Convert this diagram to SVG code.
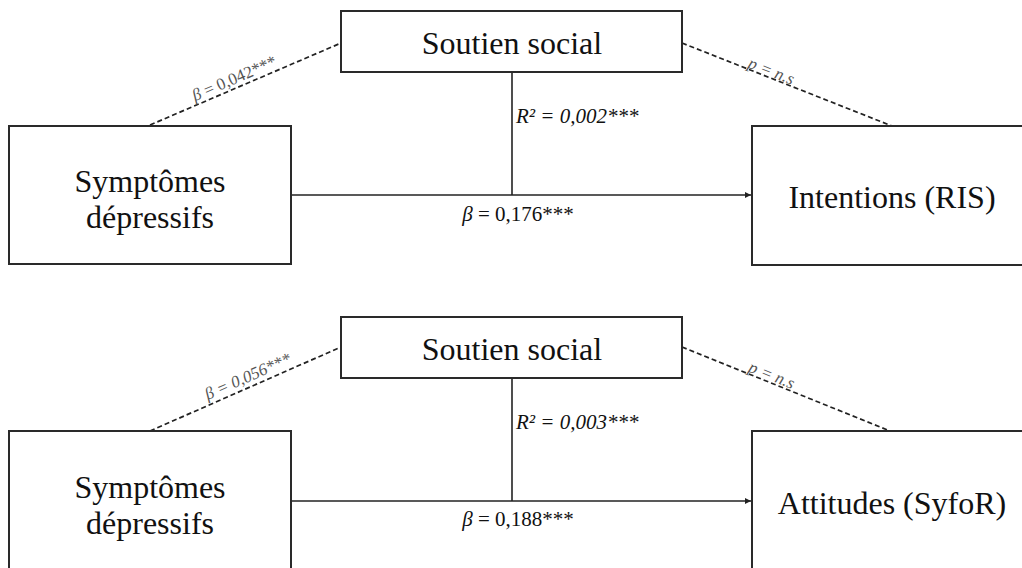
<svg xmlns="http://www.w3.org/2000/svg" width="1022" height="568" viewBox="0 0 1022 568">
<style>
.box{fill:#fff;stroke:#2a2a2a;stroke-width:2}
.big{font-family:"Liberation Serif","Times New Roman",serif;font-size:32px;fill:#111;text-anchor:middle}
.lab{font-family:"Liberation Serif","Times New Roman",serif;font-size:21px;fill:#111}
.sm{font-family:"Liberation Serif","Times New Roman",serif;font-size:17px;fill:#555;text-anchor:middle}
.dash{stroke:#222;stroke-width:1.7;stroke-dasharray:5 3;fill:none}
.solid{stroke:#222;stroke-width:1.6;fill:none}
</style>
<defs>
<marker id="ah" viewBox="0 0 10 10" refX="10" refY="5" markerWidth="7" markerHeight="6" markerUnits="userSpaceOnUse" orient="auto">
<path d="M0,0 L10,5 L0,10 z" fill="#222"/>
</marker>
</defs>
<rect width="1022" height="568" fill="#fff"/>
<g id="connectors">
<line class="dash" x1="150" y1="125" x2="341" y2="43"/>
<line class="dash" x1="682" y1="43" x2="892" y2="126"/>
<line class="solid" x1="512" y1="72" x2="512" y2="195"/>
<line class="solid" x1="291" y1="195" x2="751" y2="195" marker-end="url(#ah)"/>
<line class="dash" x1="150" y1="431" x2="341" y2="347"/>
<line class="dash" x1="682" y1="347" x2="890" y2="431"/>
<line class="solid" x1="512" y1="378" x2="512" y2="501"/>
<line class="solid" x1="291" y1="501" x2="751" y2="501" marker-end="url(#ah)"/>
<text class="sm" transform="translate(238,87) rotate(-23.3)" y="-4"><tspan font-style="italic">β</tspan> = 0,042***</text>
<text class="sm" font-style="italic" transform="translate(769,77) rotate(21.5)" y="-1">p = n.s</text>
<text class="lab" font-style="italic" x="516" y="123">R² = 0,002***</text>
<text class="lab" x="518" y="221" text-anchor="middle"><tspan font-style="italic">β</tspan> = 0,176***</text>
<text class="sm" font-style="italic" transform="translate(252,386) rotate(-23.8)" y="-5">β = 0,056***</text>
<text class="sm" font-style="italic" transform="translate(769,382) rotate(22)" y="-2">p = n.s</text>
<text class="lab" font-style="italic" x="516" y="429">R² = 0,003***</text>
<text class="lab" x="518" y="526" text-anchor="middle"><tspan font-style="italic">β</tspan> = 0,188***</text>
</g>
<g id="soutien1">
<rect class="box" x="341" y="11" width="341" height="61"/>
<text class="big" x="512" y="54">Soutien social</text>
</g>
<g id="symptomes1">
<rect class="box" x="9" y="126" width="282" height="138"/>
<text class="big" x="150" y="192">Symptômes</text>
<text class="big" x="150" y="228">dépressifs</text>
</g>
<g id="intentions">
<rect class="box" x="752" y="126" width="290" height="139"/>
<text class="big" x="892" y="208">Intentions (RIS)</text>
</g>
<g id="soutien2">
<rect class="box" x="341" y="317" width="341" height="61"/>
<text class="big" x="512" y="360">Soutien social</text>
</g>
<g id="symptomes2">
<rect class="box" x="9" y="431" width="282" height="150"/>
<text class="big" x="150" y="498">Symptômes</text>
<text class="big" x="150" y="534">dépressifs</text>
</g>
<g id="attitudes">
<rect class="box" x="752" y="431" width="290" height="150"/>
<text class="big" x="892" y="514">Attitudes (SyfoR)</text>
</g>
</svg>
